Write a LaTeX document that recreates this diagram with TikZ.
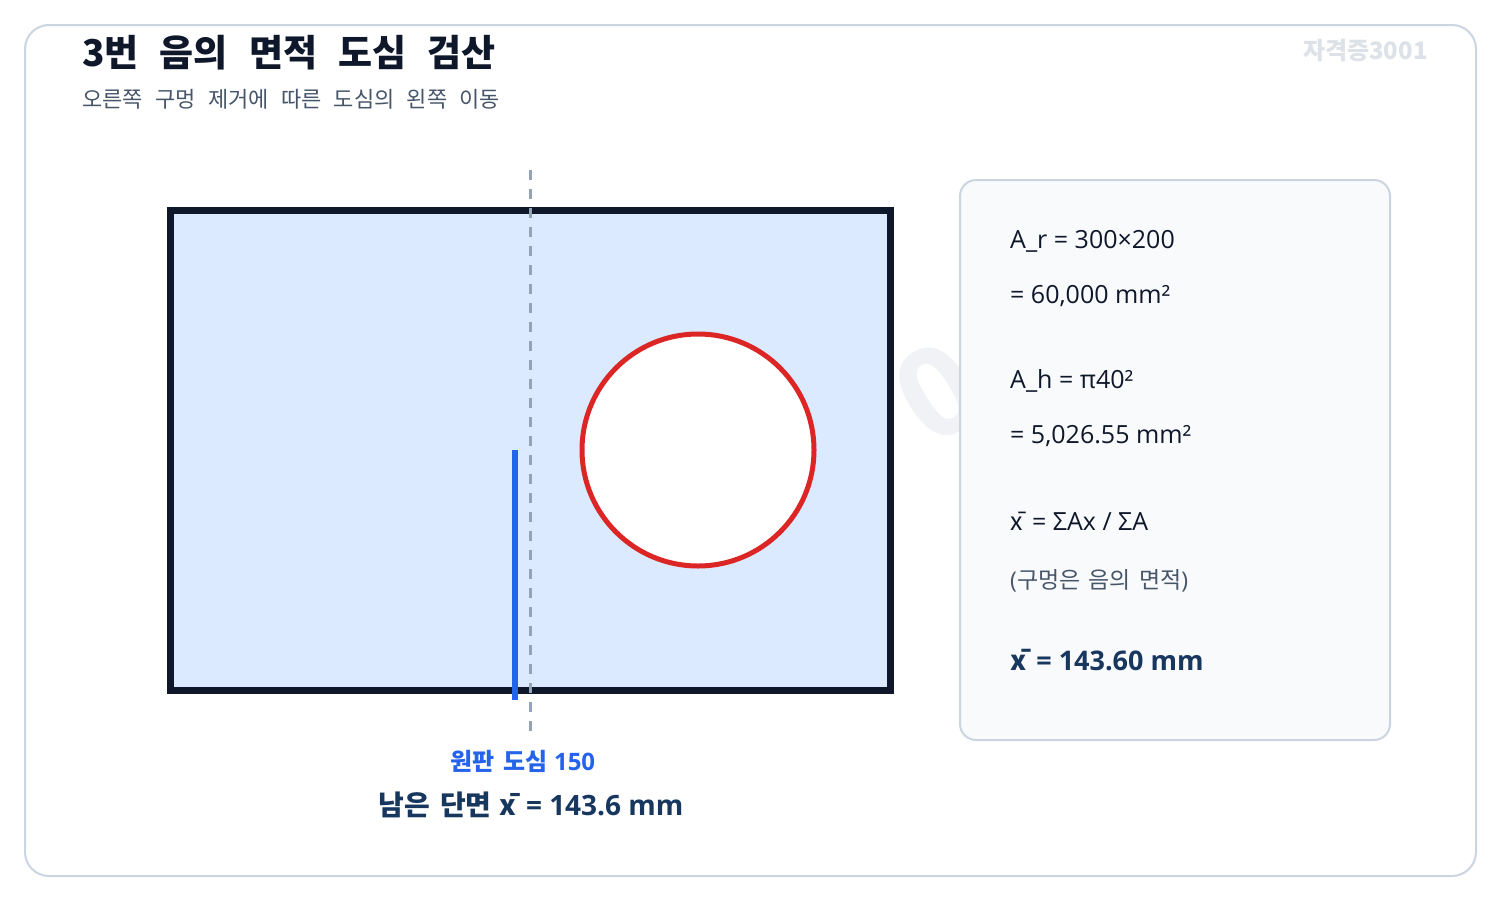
\documentclass[tikz,border=0pt]{standalone}
\usepackage{fontspec}
\setmainfont{Open Sans}
\newfontfamily\kr{Noto Sans CJK KR}[WordSpace=2.5]
\newfontfamily\krn{Noto Sans CJK KR}[WordSpace=1.6, Scale=0.999]
\usepackage{xcolor}
\usetikzlibrary{positioning,calc}

\definecolor{ink}{HTML}{0F172A}
\definecolor{subgray}{HTML}{475569}
\definecolor{frame}{HTML}{CBD5E1}
\definecolor{plate}{HTML}{DBEAFE}
\definecolor{holered}{HTML}{DC2626}
\definecolor{cgblue}{HTML}{2563EB}
\definecolor{axisgray}{HTML}{94A3B8}
\definecolor{panelbg}{HTML}{F8FAFC}
\definecolor{navy}{HTML}{17375E}
\definecolor{wmark}{HTML}{DDE2E8}

\newcommand{\xbar}{{\krn x̄}\kern3pt}

\begin{document}
\begin{tikzpicture}[x=1pt, y=-1pt, font=\fontsize{25}{29}\selectfont]
            \tikzset{
                txt/.style={anchor=west, inner sep=0pt, text=ink},
                calcline/.style={txt, font=\fontsize{25}{29}\selectfont},
            }

            % ---- CANVAS ----
            \fill[white] (0,0) rectangle (1500,900);
            \draw[frame, line width=2pt, rounded corners=24pt] (25,25) rectangle (1476,876);

            % faint watermark, only seen between plate and panel
            \node[text=wmark!45, font=\bfseries\fontsize{125}{125}\selectfont, rotate=32, inner sep=0pt] (bigmark) at (938,392) {0};

            % ---- HEADER ----
            \node[txt, font=\kr\bfseries\fontsize{37}{40}\selectfont] (title) at (82,53) {3번 음의 면적 도심 검산};
            \node[txt, text=subgray, font=\kr\fontsize{22}{26}\selectfont] (subtitle) at (82,99) {오른쪽 구멍 제거에 따른 도심의 왼쪽 이동};
            \node[anchor=east, inner sep=0pt, text=wmark, font=\kr\bfseries\fontsize{24}{28}\selectfont] (mark) at (1428,51) {자격증3001};

            % ---- PLATE WITH HOLE ----
            \draw[ink, fill=plate, line width=7pt] (170,210) rectangle (890,690);
            \draw[holered, fill=white, line width=5pt] (698,450) circle (116);

            % centroid of the remaining section
            \coordinate (cgtop) at (515,450);
            \coordinate (cgbot) at (515,700);
            \draw[cgblue, line width=6pt] (cgtop) -- (cgbot);

            % centroid of the full plate
            \coordinate (axtop) at (530,170);
            \coordinate (axbot) at (530,732);
            \draw[axisgray, line width=3pt, dash pattern=on 10pt off 9pt] (axtop) -- (axbot);

            \node[text=cgblue, font=\bfseries\fontsize{24}{28}\selectfont] (fullcg) at (523,761) {{\krn 원판 도심} 150};
            \node[text=navy, font=\bfseries\fontsize{28}{32}\selectfont] (netcg) at (531,805) {{\krn 남은 단면} \xbar{} = 143.6 mm};

            % ---- CALCULATION PANEL ----
            \draw[frame, fill=panelbg, line width=2pt, rounded corners=16pt] (960,180) rectangle (1390,740);
            \foreach \y/\t in {241/{A\_r = 300×200}, 296/{= 60,000 mm²}, 381/{A\_h = π40²}, 436/{= 5,026.55 mm²}, 521/{\xbar{} = ΣAx / ΣA}} {
                    \node[calcline] (calc\y) at (1010,\y) {\t};
                }
            \node[txt, text=subgray, font=\fontsize{23}{27}\selectfont] (note) at (1010,581) {({\krn 구멍은 음의 면적})};
            \node[txt, text=navy, font=\bfseries\fontsize{27}{31}\selectfont] (result) at (1010,660) {\xbar{} = 143.60 mm};

        \end{tikzpicture}
\end{document}
